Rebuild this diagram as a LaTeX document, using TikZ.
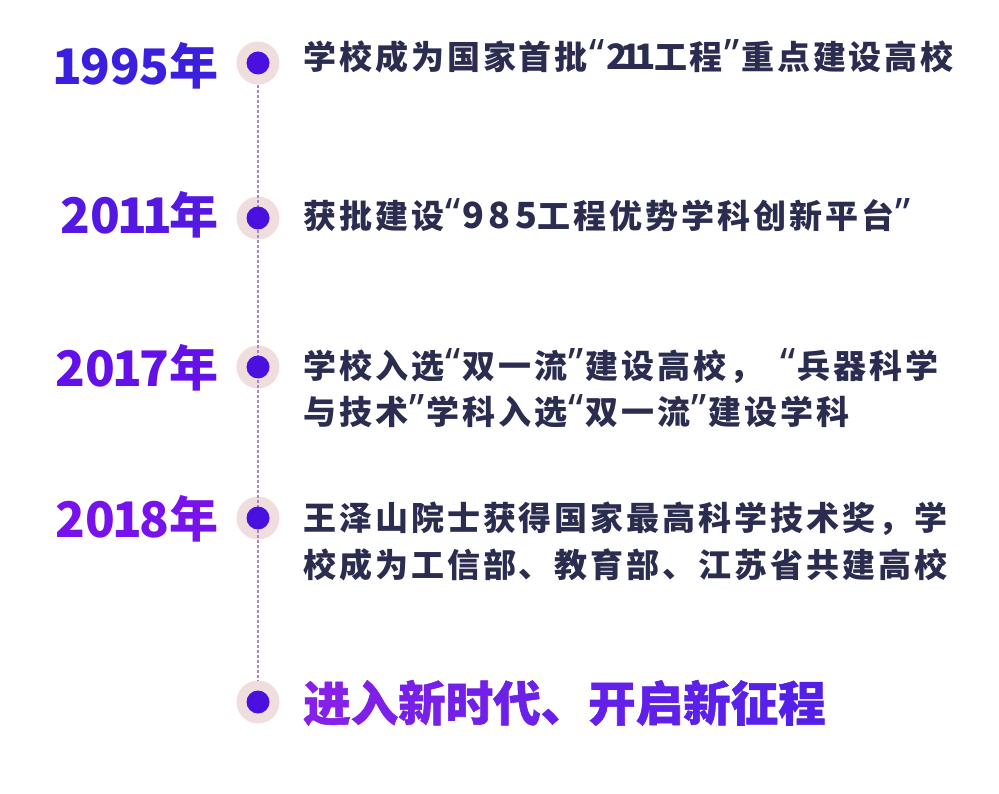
\documentclass[tikz,border=0pt]{standalone}
\usepackage{fontspec}
\newfontfamily\cjk{Noto Sans CJK SC}[LetterSpace=9]
\newfontfamily\cjkt{Noto Sans CJK SC}
\newfontfamily\cjkh{Noto Sans CJK SC}[BoldFeatures={FakeBold=1.2}]
\newfontfamily\dign{Noto Sans CJK SC}[LetterSpace=5]
\newfontfamily\digw{Noto Sans CJK SC}[LetterSpace=13]
\newfontfamily\qf{Noto Sans}
\newcommand{\oq}{\hspace{1.5pt}{\qf\bfseries\fontsize{42}{42}\selectfont “}\hspace{1.5pt}}
\newcommand{\cq}{\hspace{1.5pt}{\qf\bfseries\fontsize{42}{42}\selectfont ”}\hspace{1.5pt}}
\newcommand{\dgn}{{\dign\bfseries\fontsize{35}{35}\selectfont 2\hspace{-7pt}1\hspace{-7pt}1\hspace{-2pt}}}
\newcommand{\dgw}[1]{{\digw\bfseries\fontsize{36}{36}\selectfont #1}}
\newcommand{\one}{\hspace{-2.5pt}1\hspace{-2.5pt}}
\definecolor{bodytxt}{HTML}{2B2D50}
\definecolor{dotin}{HTML}{4A10E0}
\definecolor{dotout}{HTML}{F0DEDE}
\definecolor{dashc}{HTML}{A888C8}
\definecolor{yA}{HTML}{3A20DD}
\definecolor{yB}{HTML}{5418E2}
\definecolor{yC}{HTML}{6410E8}
\definecolor{yD}{HTML}{7812EC}
\tikzset{
  yearlbl/.style={anchor=base east,inner sep=0pt,font=\cjkt\bfseries\fontsize{49}{48}\selectfont},
  bodylbl/.style={anchor=base west,inner sep=0pt,text=bodytxt,font=\cjk\bfseries\fontsize{33}{33}\selectfont},
  finallbl/.style={anchor=base west,inner sep=0pt,font=\cjkh\bfseries\fontsize{47.5}{48}\selectfont},
  halo/.style={circle,fill=dotout,minimum size=43pt,inner sep=0pt},
  core/.style={circle,fill=dotin,minimum size=23pt,inner sep=0pt},
  spine/.style={dashc,line width=1.4pt,dash pattern=on 3pt off 2pt}
}
\begin{document}
\begin{tikzpicture}[x=1pt,y=-1pt]
\useasboundingbox (0,0) rectangle (999,794);
\fill[white] (0,0) rectangle (999,794);
% halos
\node[halo] (h1) at (258,63) {};
\node[halo] (h2) at (258,218) {};
\node[halo] (h3) at (258,367) {};
\node[halo] (h4) at (258,518) {};
\node[halo] (h5) at (258,702) {};
\draw[spine] (h1.south) -- (h5.north);
\node[core] (c1) at (h1) {};
\node[core] (c2) at (h2) {};
\node[core] (c3) at (h3) {};
\node[core] (c4) at (h4) {};
\node[core] (c5) at (h5) {};
% years
\node[yearlbl,text=yA] (y1) at (219,85) {\one 995年};
\node[yearlbl,text=yB] (y2) at (219,234) {20\one\one 年};
\node[yearlbl,text=yC] (y3) at (219,386) {20\one 7年};
\node[yearlbl,text=yD] (y4) at (219,537) {20\one 8年};
% body
\node[bodylbl] (t1) at (303,70) {学校成为国家首批\oq\dgn 工程\cq 重点建设高校};
\node[bodylbl] (t2) at (303,229) {获批建设\oq\dgw{985}工程优势学科创新平台\cq};
\node[bodylbl] (t3a) at (303,378) {学校入选\oq 双一流\cq 建设高校，\hspace{17pt}\oq 兵器科学};
\node[bodylbl] (t3b) at (303,424) {与技术\cq 学科入选\oq 双一流\cq 建设学科};
\node[bodylbl] (t4a) at (303,530) {王泽山院士获得国家最高科学技术奖，学};
\node[bodylbl] (t4b) at (303,577) {校成为工信部、教育部、江苏省共建高校};
% final
\node[finallbl] (t5) at (303,721) {\textcolor[HTML]{8420E8}{进}\textcolor[HTML]{7E20E8}{入}\textcolor[HTML]{7820E8}{新}\textcolor[HTML]{7220E8}{时}\textcolor[HTML]{6C20E8}{代}\textcolor[HTML]{6820E8}{、}\textcolor[HTML]{6420E8}{开}\textcolor[HTML]{6020E8}{启}\textcolor[HTML]{5C20E8}{新}\textcolor[HTML]{5820E8}{征}\textcolor[HTML]{5420E8}{程}};
\end{tikzpicture}
\end{document}
